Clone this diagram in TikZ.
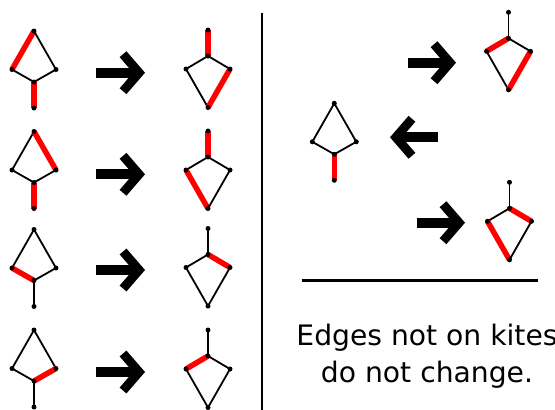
\documentclass[tikz,border=0pt]{standalone}
\usepackage{fontspec}
\setmainfont{DejaVu Sans}
\usetikzlibrary{arrows.meta,backgrounds}

\begin{document}
\begin{tikzpicture}[
        x=1pt, y=-1pt,
        dot/.style={circle, fill=black, inner sep=0pt, minimum size=5pt},
        edge/.style={draw=black, line width=1.8pt},
        marked/.style={draw=red, line width=5.5pt},
        bigarrow/.style={line width=10pt, -{Straight Barb[length=16pt, width=37pt, line width=9pt]}},
        rule/.style={line width=2.8pt}
    ]
    \useasboundingbox (0,0) rectangle (555,410);

    % Kites with the tail below
    \foreach \k/\x/\y in {a1/34/82, a2/34/182.5, a3/34/280.5, a4/34/381, m/334.3/154.3} {
        \node[dot] (\k-top) at (\x,\y-51) {};
        \node[dot] (\k-l) at (\x-22,\y-12.5) {};
        \node[dot] (\k-r) at (\x+22,\y-12.5) {};
        \node[dot] (\k-j) at (\x,\y) {};
        \node[dot] (\k-t) at (\x,\y+26) {};
    }

    % Kites with the tail above
    \foreach \k/\x/\y in {b1/208/56, b2/208/157, b3/208/254.5, b4/208/356, n1/508.5/38.3, n2/509.5/208.3} {
        \node[dot] (\k-t) at (\x,\y-26) {};
        \node[dot] (\k-j) at (\x,\y) {};
        \node[dot] (\k-l) at (\x-22,\y+13) {};
        \node[dot] (\k-r) at (\x+22,\y+13) {};
        \node[dot] (\k-b) at (\x,\y+51.5) {};
    }

    % Edges
    \begin{scope}[on background layer]
    \foreach \k/\ea/\eb/\ec/\ed/\ee in {a1/marked/edge/edge/edge/marked,
            a2/edge/marked/edge/edge/marked, a3/edge/edge/marked/edge/edge,
            a4/edge/edge/edge/marked/edge, m/edge/edge/edge/edge/marked} {
        \draw[\ea] (\k-top.center) -- (\k-l.center);
        \draw[\eb] (\k-top.center) -- (\k-r.center);
        \draw[\ec] (\k-l.center) -- (\k-j.center);
        \draw[\ed] (\k-r.center) -- (\k-j.center);
        \draw[\ee] (\k-j.center) -- (\k-t.center);
    }
    \foreach \k/\ea/\eb/\ec/\ed/\ee in {b1/marked/edge/edge/edge/marked,
            b2/marked/edge/edge/marked/edge, b3/edge/edge/marked/edge/edge,
            b4/edge/marked/edge/edge/edge, n1/edge/marked/edge/edge/marked,
            n2/edge/edge/marked/marked/edge} {
        \draw[\ea] (\k-t.center) -- (\k-j.center);
        \draw[\eb] (\k-j.center) -- (\k-l.center);
        \draw[\ec] (\k-j.center) -- (\k-r.center);
        \draw[\ed] (\k-l.center) -- (\k-b.center);
        \draw[\ee] (\k-r.center) -- (\k-b.center);
    }
    \end{scope}

    % Arrows
    \foreach \i/\xa/\xb/\y in {1/96/145/72.7, 2/96/145/174.3, 3/96/145/270, 4/96/145/372,
            5/408/456/62.7, 6/437.7/390/137.3, 7/416.7/465/222.7} {
        \coordinate (s\i) at (\xa,\y);
        \coordinate (e\i) at (\xb,\y);
        \draw[bigarrow] (s\i) -- (e\i);
    }

    % Dividers
    \draw[rule] (262,13) -- (262,410);
    \draw[rule] (301.7,280.7) -- (538.3,280.7);

    \node[align=center, inner sep=0pt, font=\fontsize{28.2}{37}\selectfont] (note) at (427,356.4)
        {Edges not on kites\\do not change.};

\end{tikzpicture}
\end{document}
